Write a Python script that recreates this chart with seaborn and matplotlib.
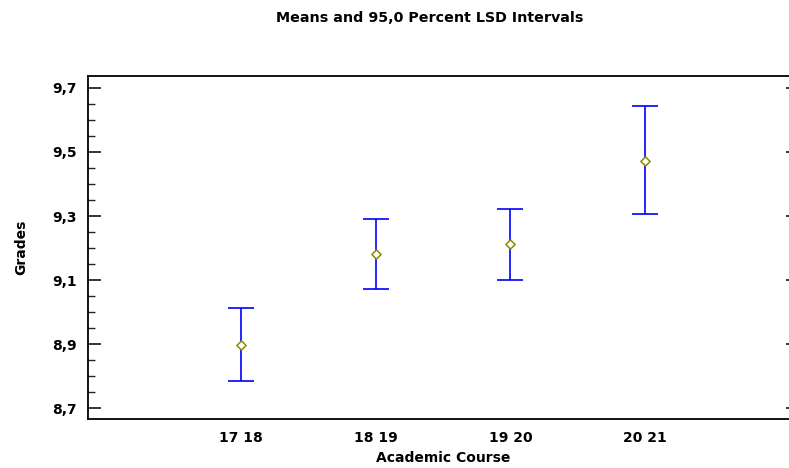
import matplotlib
matplotlib.use('Agg')
import matplotlib.pyplot as plt
import numpy as np
import pandas as pd
import seaborn as sns
from matplotlib.ticker import FixedLocator, MultipleLocator

courses = ['17 18', '18 19', '19 20', '20 21']
means = [8.899, 9.181, 9.212, 9.472]
lower = [8.785, 9.071, 9.102, 9.305]
upper = [9.014, 9.291, 9.322, 9.642]

y_ticks = [8.7, 8.9, 9.1, 9.3, 9.5, 9.7]
y_tick_labels = ['8,7', '8,9', '9,1', '9,3', '9,5', '9,7']

df = pd.DataFrame({'course': courses, 'mean': means,
                   'lower': lower, 'upper': upper})

sns.set_style('white')
plt.rcParams['font.family'] = ['DejaVu Sans']
plt.rcParams['font.weight'] = 'bold'
plt.rcParams['text.color'] = 'black'
plt.rcParams['axes.labelcolor'] = 'black'

fig = plt.figure(figsize=(7.89, 4.68), dpi=100)
ax = fig.add_axes([88 / 789, 1 - 419 / 468, (798 - 88) / 789, (419 - 76) / 468])

x = np.arange(len(df))
yerr = np.vstack([df['mean'] - df['lower'], df['upper'] - df['mean']])
ax.errorbar(x, df['mean'], yerr=yerr, fmt='none', ecolor='#0000ff',
            elinewidth=1.2, capsize=9.5, capthick=1.2, zorder=2)
sns.scatterplot(data=df, x='course', y='mean', marker='D', s=22,
                facecolor='white', edgecolor='#8b8b00', linewidth=1.1,
                ax=ax, zorder=3)

ax.set_xlim(-1.136, 4.136)
ax.set_ylim(8.667, 9.737)
ax.yaxis.set_major_locator(FixedLocator(y_ticks))
ax.set_yticklabels(y_tick_labels)
ax.yaxis.set_minor_locator(MultipleLocator(0.05))

for side in ['left', 'right', 'top', 'bottom']:
    ax.spines[side].set_color('black')
    ax.spines[side].set_linewidth(1.3)

ax.tick_params(axis='y', which='major', direction='in', length=9, width=1.1,
               left=True, right=True, labelsize=10, pad=8, colors='black')
ax.tick_params(axis='y', which='minor', direction='in', length=5, width=1.0,
               left=True, right=True)
ax.tick_params(axis='x', length=0, labelsize=10, pad=9, colors='black')

ax.set_xlabel('Academic Course', fontsize=10, fontweight='bold', labelpad=4)
ax.set_ylabel('Grades', fontsize=10, fontweight='bold', labelpad=17)

fig.text(430 / 789, 1 - 18 / 468, 'Means and 95,0 Percent LSD Intervals',
         ha='center', va='center', fontsize=10.3, fontweight='bold')

fig.savefig('out.png', dpi=100)
